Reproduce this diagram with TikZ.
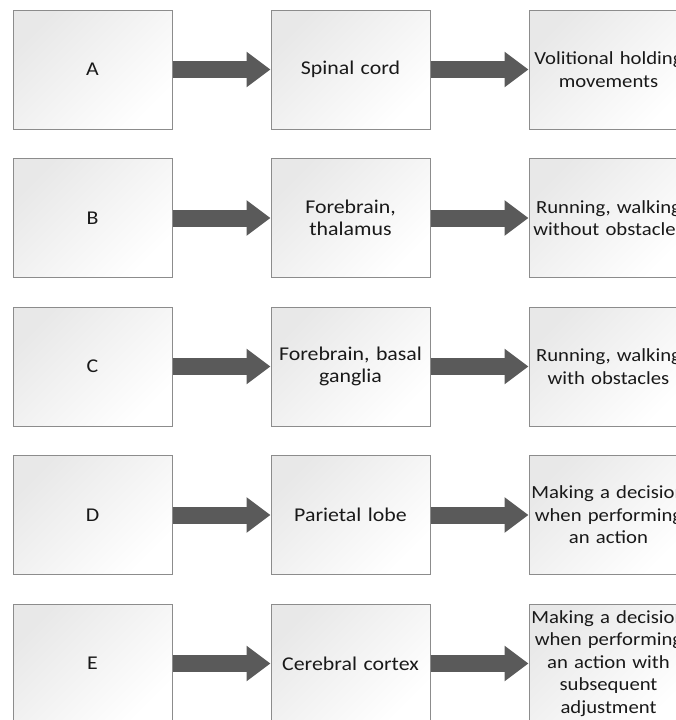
\documentclass[tikz,border=0pt]{standalone}
\usepackage{fontspec}
\setmainfont{Carlito}[FakeStretch=1.12]
\usetikzlibrary{arrows.meta}
\definecolor{boxline}{HTML}{8C8C8C}
\definecolor{arrowgray}{HTML}{5A5A5A}
\newcommand{\wideline}[1]{\makebox[\linewidth]{#1}}
\tikzset{
  box/.style={draw=boxline, line width=1pt, top color=black!9, bottom color=white, shading angle=45,
    minimum width=159pt, minimum height=119pt, text width=152pt, align=center, inner sep=0pt,
    font=\fontsize{19.5}{22.5}\selectfont, text=black!90},
  outbox/.style={box, font=\fontsize{18.5}{22.5}\selectfont},
  flow/.style={arrowgray, line width=17pt, -{Triangle[width=34pt,length=24pt]}}
}
\begin{document}
\begin{tikzpicture}[x=1pt,y=-1pt]
\useasboundingbox (0,0) rectangle (676,720);
\clip (0,0) rectangle (676,720);
% first column
\node[box] (A) at (92.5,69.5) {A};
\node[box] (B) at (92.5,218) {B};
\node[box] (C) at (92.5,366.5) {C};
\node[box] (D) at (92.5,515) {D};
\node[box] (E) at (92.5,663.5) {E};
% brain parts
\node[box] (Ab) at (350.5,69.5) {Spinal cord};
\node[box] (Bb) at (350.5,218) {Forebrain,\\thalamus};
\node[box] (Cb) at (350.5,366.5) {Forebrain, basal\\ganglia};
\node[box] (Db) at (350.5,515) {Parietal lobe};
\node[box] (Eb) at (350.5,663.5) {Cerebral cortex};
% movements (lines run past the box edge)
\node[outbox] (Am) at (608.5,69.5) {\wideline{Volitional holding}\\\wideline{movements}};
\node[outbox] (Bm) at (608.5,218) {\wideline{Running, walking}\\\wideline{without obstacles}};
\node[outbox] (Cm) at (608.5,366.5) {\wideline{Running, walking}\\\wideline{with obstacles}};
\node[outbox] (Dm) at (608.5,515) {\wideline{Making a decision}\\\wideline{when performing}\\\wideline{an action}};
\node[outbox] (Em) at (608.5,663.5) {\wideline{Making a decision}\\\wideline{when performing}\\\wideline{an action with}\\\wideline{subsequent}\\\wideline{adjustment}};
% arrows
\draw[flow] (A) -- (Ab);
\draw[flow] (B) -- (Bb);
\draw[flow] (C) -- (Cb);
\draw[flow] (D) -- (Db);
\draw[flow] (E) -- (Eb);
\draw[flow] (Ab) -- (Am);
\draw[flow] (Bb) -- (Bm);
\draw[flow] (Cb) -- (Cm);
\draw[flow] (Db) -- (Dm);
\draw[flow] (Eb) -- (Em);
\end{tikzpicture}
\end{document}
